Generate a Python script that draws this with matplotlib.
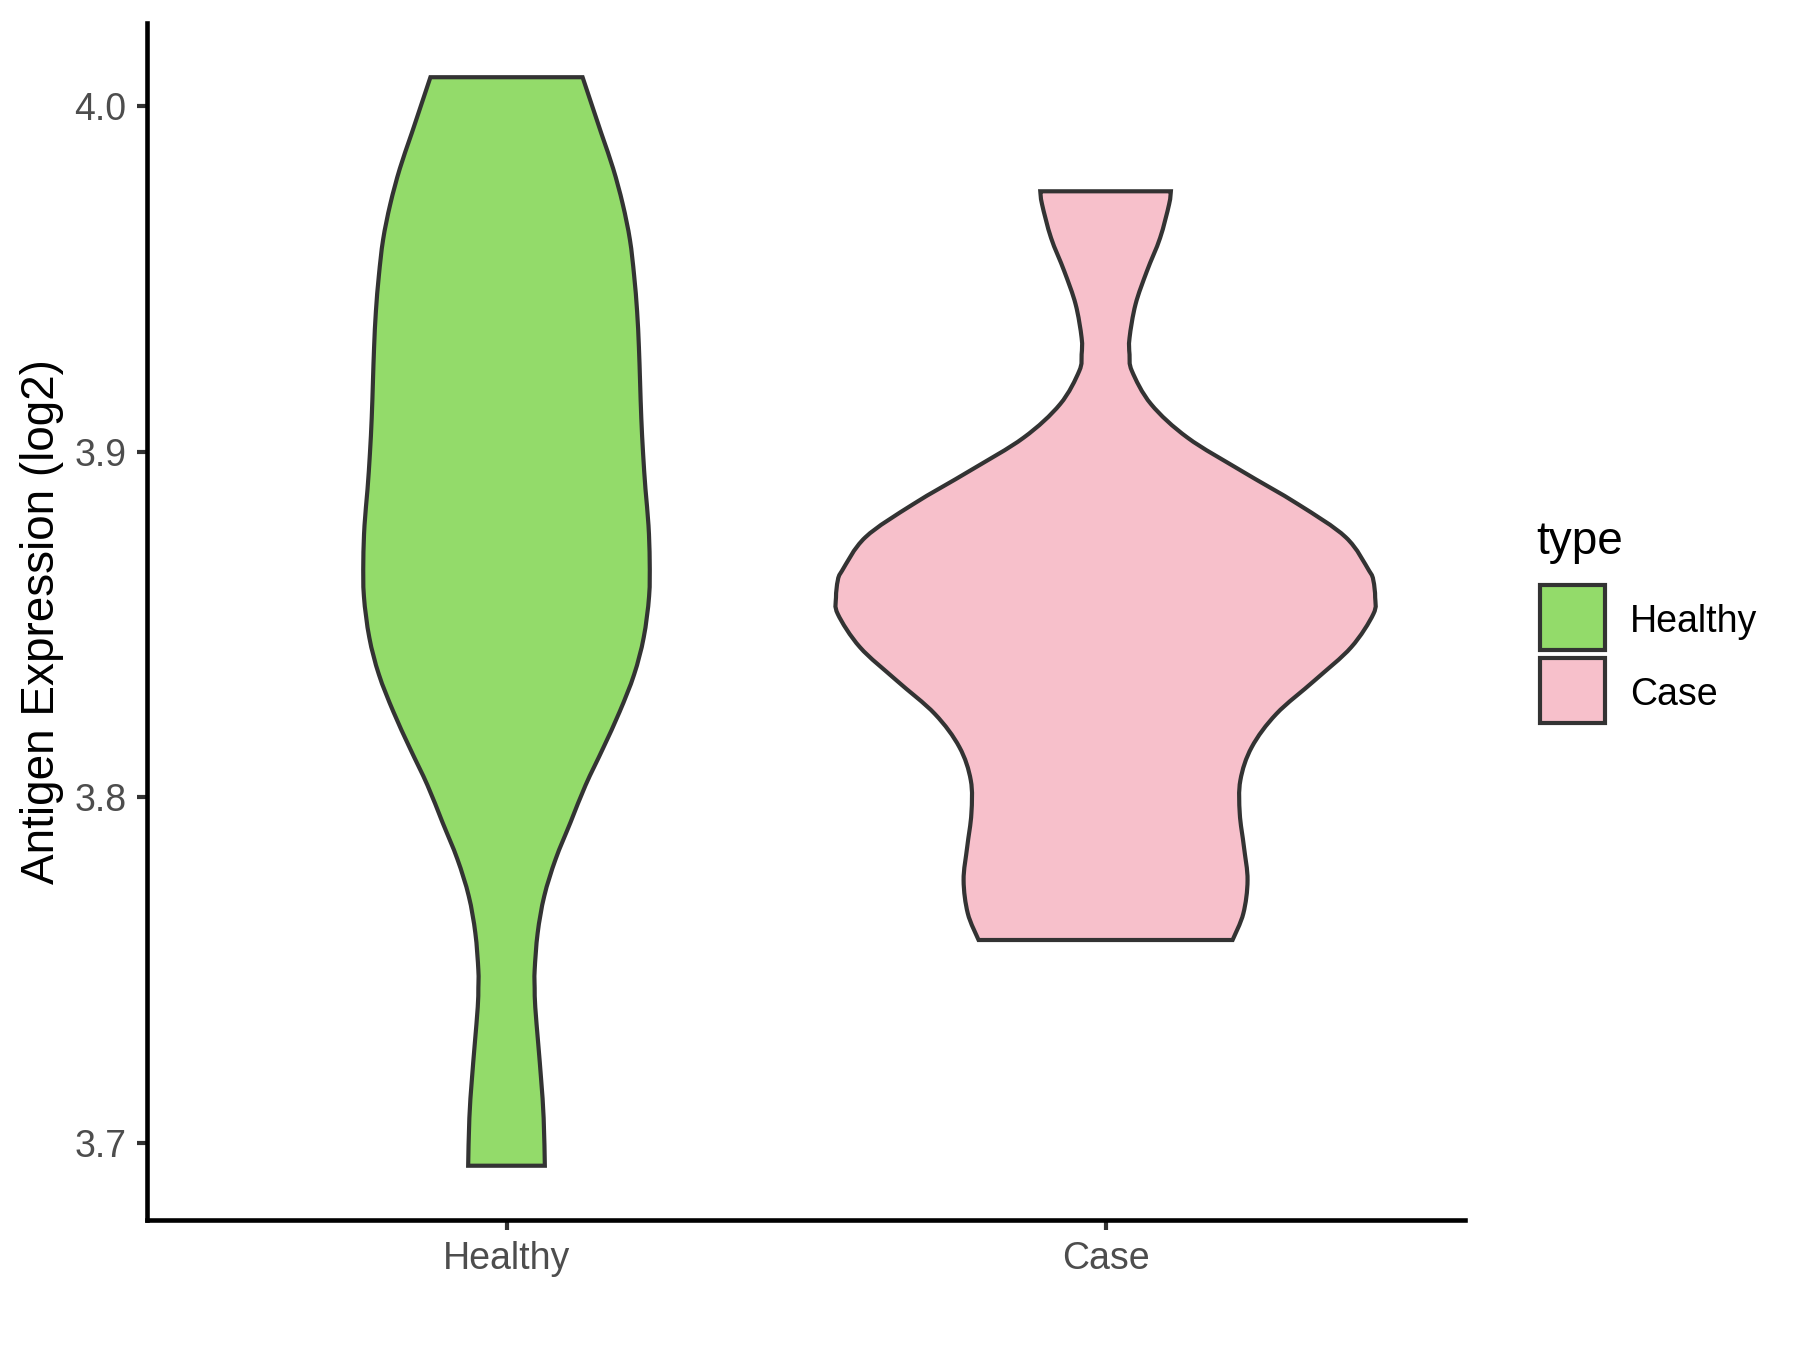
import matplotlib
matplotlib.use("Agg")
import matplotlib.pyplot as plt
from matplotlib.patches import Rectangle, PathPatch
from matplotlib.path import Path
import numpy as np

plt.rcParams['font.family'] = ['Liberation Sans', 'DejaVu Sans']

# groups and fill colours
groups = ["Healthy", "Case"]
colors = ["#93DB6A", "#F7C0CB"]

# violin outlines: value (log2) and half width (x units)
healthy_y = [3.6934, 3.7072, 3.7179, 3.7286, 3.7393, 3.7448, 3.7500, 3.7607,
             3.7714, 3.7821, 3.7928, 3.8035, 3.8141, 3.8248, 3.8355, 3.8462,
             3.8581, 3.8684, 3.8787, 3.8891, 3.8994, 3.9097, 3.9200, 3.9303,
             3.9406, 3.9510, 3.9613, 3.9716, 3.9819, 3.9922, 4.0083]
healthy_hw = [0.064, 0.062, 0.058, 0.053, 0.048, 0.047, 0.047, 0.052,
              0.063, 0.082, 0.107, 0.132, 0.161, 0.189, 0.213, 0.229,
              0.238, 0.239, 0.237, 0.232, 0.228, 0.225, 0.223, 0.221,
              0.218, 0.213, 0.206, 0.194, 0.178, 0.158, 0.127]

case_y = [3.7587, 3.7664, 3.7760, 3.7856, 3.7953, 3.8049, 3.8145, 3.8241,
          3.8338, 3.8434, 3.8530, 3.8578, 3.8627, 3.8655, 3.8752, 3.8848,
          3.8944, 3.9040, 3.9137, 3.9233, 3.9281, 3.9329, 3.9426, 3.9522,
          3.9618, 3.9715, 3.9753]
case_hw = [0.212, 0.230, 0.237, 0.231, 0.224, 0.225, 0.244, 0.285,
           0.349, 0.410, 0.447, 0.450, 0.447, 0.440, 0.401, 0.321,
           0.227, 0.137, 0.076, 0.044, 0.040, 0.040, 0.050, 0.069,
           0.091, 0.106, 0.109]

outlines = [(healthy_y, healthy_hw), (case_y, case_hw)]


def smooth_side(pts):
    # catmull-rom through the read points, as cubic bezier pieces
    verts, codes = [], []
    n = len(pts)
    for k in range(n - 1):
        p0 = pts[max(k - 1, 0)]
        p1 = pts[k]
        p2 = pts[k + 1]
        p3 = pts[min(k + 2, n - 1)]
        c1 = p1 + (p2 - p0) / 6.0
        c2 = p2 - (p3 - p1) / 6.0
        verts += [c1, c2, p2]
        codes += [Path.CURVE4] * 3
    return verts, codes


fig = plt.figure(figsize=(6, 4.5), dpi=300)
ax = fig.add_axes([0.0817, 0.0963, 0.7322, 0.8867])

for i, (yy, hw) in enumerate(outlines):
    pos = i + 1
    yy = np.asarray(yy)
    hw = np.asarray(hw)
    left = np.column_stack([pos - hw, yy])
    right = np.column_stack([pos + hw, yy])[::-1]
    verts = [left[0]]
    codes = [Path.MOVETO]
    v, c = smooth_side(left)
    verts += v
    codes += c
    verts.append(right[0])
    codes.append(Path.LINETO)
    v, c = smooth_side(right)
    verts += v
    codes += c
    verts.append(left[0])
    codes.append(Path.CLOSEPOLY)
    patch = PathPatch(Path(np.array(verts), codes), facecolor=colors[i],
                      edgecolor="#333333", linewidth=1.0, joinstyle="miter")
    ax.add_patch(patch)

ax.set_xlim(0.4, 2.6)
ax.set_ylim(3.6777, 4.0240)
ax.set_xticks([1, 2])
ax.set_xticklabels(groups)
ax.set_yticks([3.7, 3.8, 3.9, 4.0])
ax.set_yticklabels(["3.7", "3.8", "3.9", "4.0"])
ax.set_ylabel("Antigen Expression (log2)", fontsize=11, color="black", labelpad=2.5)

for s in ["top", "right"]:
    ax.spines[s].set_visible(False)
for s in ["left", "bottom"]:
    ax.spines[s].set_linewidth(1.1)
    ax.spines[s].set_color("black")
ax.tick_params(axis="both", length=2.5, width=1.0, color="#333333",
               labelcolor="#4D4D4D", labelsize=9, pad=2.5)

# legend drawn in figure pixels
W, H = 1800, 1350
fig.text(1536 / W, 1 - 542 / H, "type", fontsize=11, va="center", ha="left")
key_tops = [585, 658]
for i, g in enumerate(groups):
    top = key_tops[i]
    fig.add_artist(Rectangle((1540 / W, 1 - (top + 65) / H), 65 / W, 65 / H,
                             transform=fig.transFigure, facecolor=colors[i],
                             edgecolor="#333333", linewidth=1.0))
    fig.text(1630 / W, 1 - (top + 33) / H, g, fontsize=9, va="center_baseline",
             ha="left")

fig.savefig("out.png", dpi=300)
